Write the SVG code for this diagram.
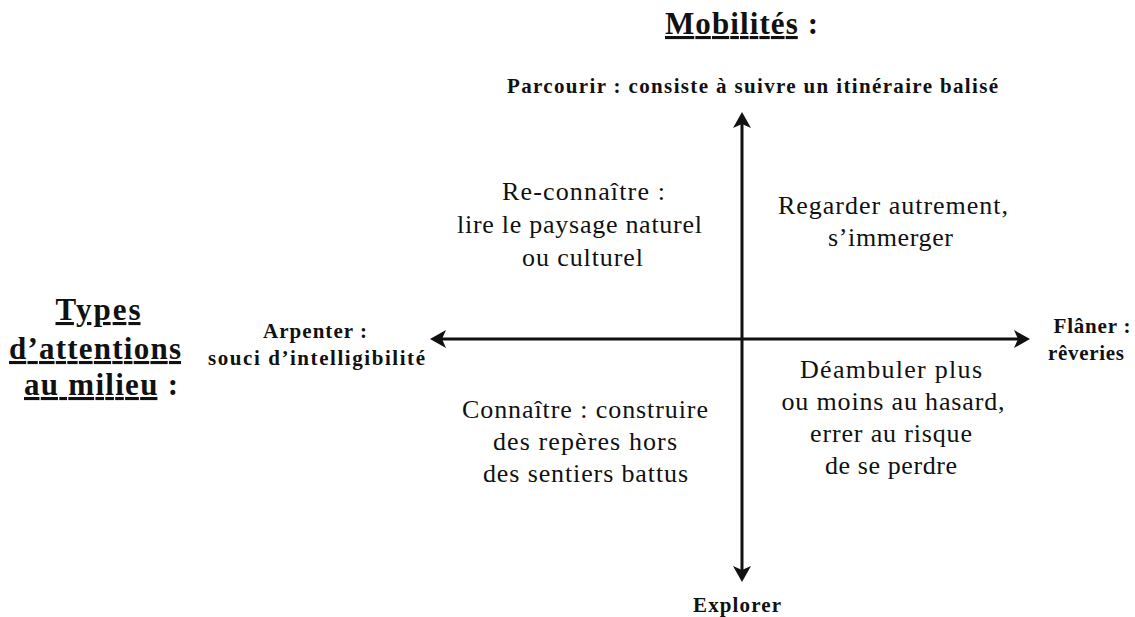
<svg xmlns="http://www.w3.org/2000/svg" width="1135" height="617" viewBox="0 0 1135 617">
<style>
text{font-family:"Liberation Serif","DejaVu Serif",serif;fill:#111;}
.t{font-size:31px;font-weight:bold;}
.b{font-size:21px;font-weight:bold;}
.q{font-size:26px;}
.u{text-decoration:underline;}
</style>
<defs>
<marker id="ah" viewBox="0 0 16 18" refX="10" refY="9" markerWidth="16" markerHeight="18" orient="auto-start-reverse" markerUnits="userSpaceOnUse">
<path d="M0,0 L16,9 L0,18 L4,9 Z" fill="#111"/>
</marker>
</defs>
<rect width="1135" height="617" fill="#fff"/>
<g id="connectors" stroke="#111" stroke-width="3" fill="none">
<line x1="742" y1="576" x2="742" y2="118" marker-end="url(#ah)" marker-start="url(#ah)"/>
<line x1="436" y1="339" x2="1024" y2="339" marker-end="url(#ah)" marker-start="url(#ah)"/>
</g>
<g id="title-mobilites"><text class="t" x="741.5" y="34" text-anchor="middle" textLength="153" lengthAdjust="spacing"><tspan class="u">Mobilités</tspan> :</text></g>
<g id="title-types" text-anchor="middle">
<text class="t" x="98" y="320" textLength="85" lengthAdjust="spacing"><tspan class="u">Types</tspan></text>
<text class="t" x="95" y="359" textLength="172" lengthAdjust="spacing"><tspan class="u">d’attentions</tspan></text>
<text class="t" x="101" y="395" textLength="154" lengthAdjust="spacing"><tspan class="u">au milieu</tspan> :</text>
</g>
<g id="parcourir"><text class="b" x="752.5" y="93" text-anchor="middle" textLength="491" lengthAdjust="spacing">Parcourir : consiste à suivre un itinéraire balisé</text></g>
<g id="explorer"><text class="b" x="737" y="612" text-anchor="middle" textLength="88" lengthAdjust="spacing">Explorer</text></g>
<g id="arpenter" text-anchor="middle">
<text class="b" x="315" y="338" textLength="104" lengthAdjust="spacing">Arpenter :</text>
<text class="b" x="316.5" y="365" textLength="217" lengthAdjust="spacing">souci d’intelligibilité</text>
</g>
<g id="flaner" text-anchor="middle">
<text class="b" x="1092" y="333" textLength="77" lengthAdjust="spacing">Flâner :</text>
<text class="b" x="1086" y="360" textLength="76" lengthAdjust="spacing">rêveries</text>
</g>
<g id="q-reconnaitre" text-anchor="middle">
<text class="q" x="583.5" y="200" textLength="163" lengthAdjust="spacing">Re-connaître :</text>
<text class="q" x="579.5" y="233" textLength="245" lengthAdjust="spacing">lire le paysage naturel</text>
<text class="q" x="582.5" y="266" textLength="121" lengthAdjust="spacing">ou culturel</text>
</g>
<g id="q-regarder" text-anchor="middle">
<text class="q" x="893" y="214" textLength="230" lengthAdjust="spacing">Regarder autrement,</text>
<text class="q" x="890.5" y="246" textLength="125" lengthAdjust="spacing">s’immerger</text>
</g>
<g id="q-connaitre" text-anchor="middle">
<text class="q" x="585" y="418" textLength="246" lengthAdjust="spacing">Connaître : construire</text>
<text class="q" x="585" y="450" textLength="184" lengthAdjust="spacing">des repères hors</text>
<text class="q" x="585.5" y="482" textLength="205" lengthAdjust="spacing">des sentiers battus</text>
</g>
<g id="q-deambuler" text-anchor="middle">
<text class="q" x="891" y="378" textLength="182" lengthAdjust="spacing">Déambuler plus</text>
<text class="q" x="893" y="410" textLength="223" lengthAdjust="spacing">ou moins au hasard,</text>
<text class="q" x="891" y="442" textLength="162" lengthAdjust="spacing">errer au risque</text>
<text class="q" x="891" y="474" textLength="132" lengthAdjust="spacing">de se perdre</text>
</g>
</svg>
